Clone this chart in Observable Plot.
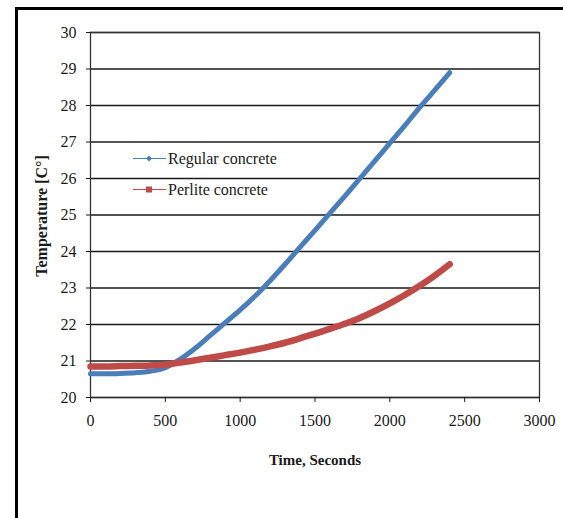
<!DOCTYPE html>
<html><head><meta charset="utf-8">
<script src="https://cdn.jsdelivr.net/npm/d3@7"></script>
<script src="https://cdn.jsdelivr.net/npm/@observablehq/plot@0.6"></script>
<style>
html,body{margin:0;padding:0;background:#fff;}
#wrap{position:relative;width:563px;height:518px;overflow:hidden;font-family:"Liberation Serif","Times New Roman",serif;color:#1a1a1a;}
#frame{position:absolute;left:15px;top:7px;width:700px;height:700px;border-left:3px solid #000;border-top:3px solid #000;box-sizing:border-box;}
#chart{position:absolute;left:0;top:0;}
#chart svg text{font-size:16px;}
.xlabel{position:absolute;left:215px;width:200px;top:452px;text-align:center;font-weight:bold;font-size:15px;}
.ylabel{position:absolute;left:-58px;top:207px;width:200px;text-align:center;font-weight:bold;font-size:16px;transform:rotate(-90deg);}
.legend{position:absolute;left:133px;top:151px;font-size:16px;}
.legend .row{display:flex;align-items:center;height:31px;margin-top:-8px;margin-bottom:8px;}
.legend svg{margin-right:2px;}
</style></head>
<body>
<div id="wrap">
  <div id="frame"></div>
  <div id="chart"></div>
  <div class="ylabel">Temperature [C°]</div>
  <div class="xlabel">Time, Seconds</div>
  <div class="legend" id="legend"></div>
</div>
<script>
const times = [0,100,200,300,400,500,600,700,800,900,1000,1100,1200,1300,1400,1500,1600,1700,1800,1900,2000,2100,2200,2300,2400];
const regular = [20.65,20.65,20.66,20.68,20.72,20.82,21.05,21.35,21.70,22.05,22.40,22.78,23.20,23.65,24.12,24.58,25.05,25.52,26.00,26.48,26.97,27.45,27.95,28.42,28.90];
const perlite = [20.85,20.85,20.86,20.87,20.88,20.90,20.96,21.02,21.09,21.16,21.23,21.31,21.40,21.50,21.62,21.75,21.88,22.02,22.18,22.37,22.58,22.81,23.06,23.34,23.65];
const seriesNames = ["Regular concrete","Perlite concrete"];
const seriesColors = ["#4A7EBB","#BE4B48"];
const xTicks = [0,500,1000,1500,2000,2500,3000];
const yTicks = [20,21,22,23,24,25,26,27,28,29,30];

const regData = times.map((t,i)=>({t, v: regular[i]}));
const perData = times.map((t,i)=>({t, v: perlite[i]}));

const chart = Plot.plot({
  width: 563, height: 518,
  marginLeft: 90, marginRight: 24, marginTop: 32, marginBottom: 121,
  style: {fontFamily: '"Liberation Serif","Times New Roman",serif', fontSize: "16px", color: "#1a1a1a", background: "transparent"},
  x: {domain: [0,3000]},
  y: {domain: [20,30]},
  marks: [
    Plot.gridY(yTicks, {stroke: "#1a1a1a", strokeOpacity: 1, strokeWidth: 1.3}),
    Plot.frame({stroke: "#333", strokeWidth: 1.3}),
    Plot.axisY(yTicks, {tickSize: 4, tickPadding: 10, label: null, fontSize: 16, tickFormat: d => String(d)}),
    Plot.axisX(xTicks, {tickSize: 5, tickPadding: 12, label: null, fontSize: 16, tickFormat: d => String(d)}),
    Plot.line(regData, {x: "t", y: "v", stroke: seriesColors[0], strokeWidth: 5, curve: "monotone-x"}),
    Plot.line(perData, {x: "t", y: "v", stroke: seriesColors[1], strokeWidth: 6.5, curve: "monotone-x"})
  ]
});
document.getElementById("chart").appendChild(chart);

const legend = document.getElementById("legend");
seriesNames.forEach((name, i) => {
  const row = document.createElement("div");
  row.className = "row";
  const marker = i === 0
    ? `<path d="M16,3.5 L19,6.5 L16,9.5 L13,6.5 Z" fill="${seriesColors[i]}"/>`
    : `<rect x="13" y="3.5" width="6" height="6" fill="${seriesColors[i]}"/>`;
  row.innerHTML = `<svg width="33" height="13"><line x1="0" y1="6.5" x2="33" y2="6.5" stroke="${seriesColors[i]}" stroke-width="1.2"/>${marker}</svg><span>${name}</span>`;
  legend.appendChild(row);
});
</script>
</body></html>
